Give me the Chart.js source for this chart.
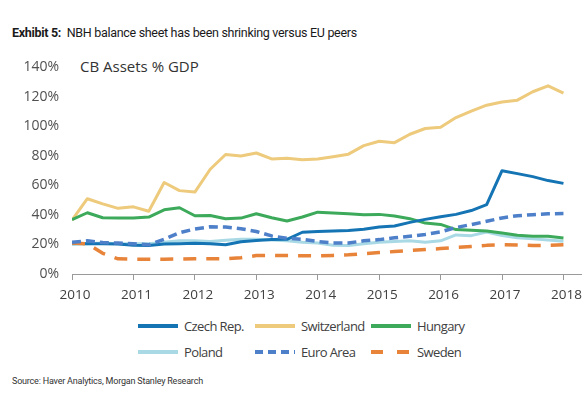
<!DOCTYPE html>
<html>
<head>
<meta charset="utf-8">
<script src="https://cdn.jsdelivr.net/npm/chart.js@4.4.1/dist/chart.umd.min.js"></script>
<style>
  html, body { margin: 0; padding: 0; background: #fff; }
  body { width: 586px; height: 393px; position: relative; overflow: hidden; font-family: "Open Sans", sans-serif; }
  #title { position: absolute; left: 12px; top: 25px; font-family: Roboto, sans-serif; font-size: 12.5px; color: #1a1a1a; letter-spacing: -0.3px; white-space: nowrap; }
  #title b { font-weight: 700; }
  #sub { position: absolute; left: 80px; top: 56px; font-family: "Open Sans", sans-serif; font-size: 15px; color: #333; white-space: nowrap; line-height: 20px; }
  #source { position: absolute; left: 12px; top: 376px; font-family: Roboto, sans-serif; font-size: 9px; color: #333; letter-spacing: -0.2px; white-space: nowrap; }
  #wrap { position: absolute; left: 0; top: 46px; width: 586px; height: 268px; }
  .lg { position: absolute; height: 20px; display: flex; align-items: center; font-family: "Open Sans", sans-serif; font-size: 13px; color: #404040; white-space: nowrap; letter-spacing: -0.6px; }
  .lg svg { margin-right: 6px; }
</style>
</head>
<body>
<div id="title"><b>Exhibit 5:</b>&nbsp; NBH balance sheet has been shrinking versus EU peers</div>
<div id="sub">CB Assets % GDP</div>
<div id="wrap"><canvas id="c"></canvas></div>
<div id="legend"></div>
<div id="source">Source: Haver Analytics, Morgan Stanley Research</div>
<script>
// Quarterly observation dates (2010Q1 .. 2018Q1)
const dates = [2010, 2010.25, 2010.5, 2010.75, 2011, 2011.25, 2011.5, 2011.75,
  2012, 2012.25, 2012.5, 2012.75, 2013, 2013.25, 2013.5, 2013.75,
  2014, 2014.25, 2014.5, 2014.75, 2015, 2015.25, 2015.5, 2015.75,
  2016, 2016.25, 2016.5, 2016.75, 2017, 2017.25, 2017.5, 2017.75, 2018];
const yearTicks = [2010, 2011, 2012, 2013, 2014, 2015, 2016, 2017, 2018];
const yTicks = [0, 20, 40, 60, 80, 100, 120, 140];

const seriesNames = ["Czech Rep.", "Switzerland", "Hungary", "Poland", "Euro Area", "Sweden"];

const czech = [21, 20.5, 20.5, 20.3, 19.5, 19.3, 20.3, 20.5, 20.8, 20.5, 19.8, 21.8, 22.7, 23.3, 23.5, 28.3,
  28.8, 29.2, 29.5, 30.3, 31.8, 32.5, 35, 37, 38.8, 40.4, 43, 47, 70, 68, 66, 63.3, 61.4];
const switzerland = [36.5, 51, 47.5, 44.5, 45.5, 42.5, 62, 56.5, 55.5, 71, 81, 80, 82, 78, 78.5, 77.5,
  78, 79.5, 81.2, 87, 90, 89, 94.7, 98.6, 99.5, 106, 110.4, 114.4, 116.6, 117.8, 123.5, 127.5, 122.5];
const hungary = [36.8, 41.5, 38.1, 37.9, 37.9, 38.6, 43.5, 44.9, 39.5, 39.7, 37.5, 37.9, 40.8, 38.1, 35.9, 38.6,
  41.9, 41.3, 40.8, 40.2, 40.4, 39.3, 37.5, 34.5, 33.6, 30.1, 29.6, 29.2, 27.8, 26.2, 25.6, 25.6, 24.4];
const poland = [20, 20.5, 21, 20.5, 20.5, 20.5, 21.5, 22.5, 22.5, 22, 22.8, 23.5, 23.5, 23, 22.5, 21.5,
  21, 19.5, 19.3, 20.5, 21.5, 22, 22.5, 21.5, 22.5, 26.5, 26, 28.5, 26, 24.5, 23.8, 23, 22.2];
const euroArea = [21.5, 22.5, 21.3, 21, 20.5, 19.8, 23.5, 28, 30.5, 32, 31.8, 30.7, 28.8, 25.8, 24.2, 23.5,
  22, 21, 21, 22.5, 23.3, 24.5, 25.6, 26.8, 28.5, 31.5, 33.5, 35.7, 38, 39.5, 40.2, 40.8, 41];
const sweden = [21, 20.5, 14, 10.3, 10, 10, 10, 10.2, 10.3, 10.3, 10.3, 11, 12.5, 12.6, 12.5, 12.4,
  12.3, 12.6, 13, 13.8, 14.5, 15.2, 16, 16.6, 17.2, 18, 18.7, 19.4, 19.8, 19.6, 19.3, 19.4, 19.8];

const colors = ["#1474B4", "#EDCA7C", "#3CAA5A", "#A8D9E5", "#4E7FC9", "#E8833A"];
const dashes = [[], [], [], [], [9, 5], [13, 10]];
const drawOrder = [2, 4, 3, 5, 0, 1];
const allValues = [czech, switzerland, hungary, poland, euroArea, sweden];

const datasets = seriesNames.map((name, i) => ({
  label: name,
  data: dates.map((d, k) => ({ x: d, y: allValues[i][k] })),
  borderColor: colors[i],
  backgroundColor: colors[i],
  borderWidth: dashes[i].length ? 3.5 : 3,
  borderDash: dashes[i],
  borderCapStyle: 'butt',
  borderJoinStyle: 'round',
  pointRadius: 0,
  tension: 0,
  fill: false,
  order: drawOrder[i]
}));

const chart = new Chart(document.getElementById('c'), {
  type: 'line',
  data: { datasets },
  options: {
    responsive: true,
    maintainAspectRatio: false,
    animation: false,
    layout: { padding: { top: 20, right: 3, left: 0, bottom: 0 } },
    plugins: { legend: { display: false }, tooltip: { enabled: false }, title: { display: false } },
    scales: {
      x: {
        type: 'linear',
        min: 2010,
        max: 2018.3,
        afterBuildTicks: (axis) => { axis.ticks = yearTicks.map(v => ({ value: v })); },
        afterFit: (axis) => { axis.height = 40; },
        ticks: {
          callback: (v) => String(v),
          font: { family: 'Open Sans', size: 13.5 },
          color: '#404040',
          padding: 7,
          labelOffset: 3,
          maxRotation: 0,
          autoSkip: false
        },
        grid: { display: true, drawOnChartArea: false, drawTicks: true, tickLength: 6, color: '#9a9a9a', lineWidth: 1 },
        border: { display: true, color: '#9a9a9a', width: 1 }
      },
      y: {
        min: 0,
        max: 140,
        afterBuildTicks: (axis) => { axis.ticks = yTicks.map(v => ({ value: v })); },
        afterFit: (axis) => { axis.width = 72; },
        ticks: {
          callback: (v) => v + '%',
          font: { family: 'Open Sans', size: 14 },
          color: '#505050',
          padding: 13
        },
        grid: { display: false, drawTicks: false },
        border: { display: false }
      }
    }
  }
});

// HTML legend built from the chart datasets (3 columns x 2 rows)
const legend = document.getElementById('legend');
const colX = [138, 255, 371];
const rowY = [326, 352];
chart.data.datasets.forEach((ds, i) => {
  const col = i % 3, row = Math.floor(i / 3);
  const item = document.createElement('div');
  item.className = 'lg';
  item.style.left = colX[col] + 'px';
  item.style.top = (rowY[row] - 10) + 'px';
  const dash = ds.borderDash.length ? (i === 5 ? '12 14' : '8 5') : '';
  item.innerHTML = '<svg width="40" height="6"><line x1="0" y1="3" x2="40" y2="3" stroke="' + ds.borderColor +
    '" stroke-width="4" ' + (dash ? 'stroke-dasharray="' + dash + '"' : 'stroke-linecap="round"') + '/></svg>' +
    '<span>' + ds.label + '</span>';
  legend.appendChild(item);
});
</script>
</body>
</html>
